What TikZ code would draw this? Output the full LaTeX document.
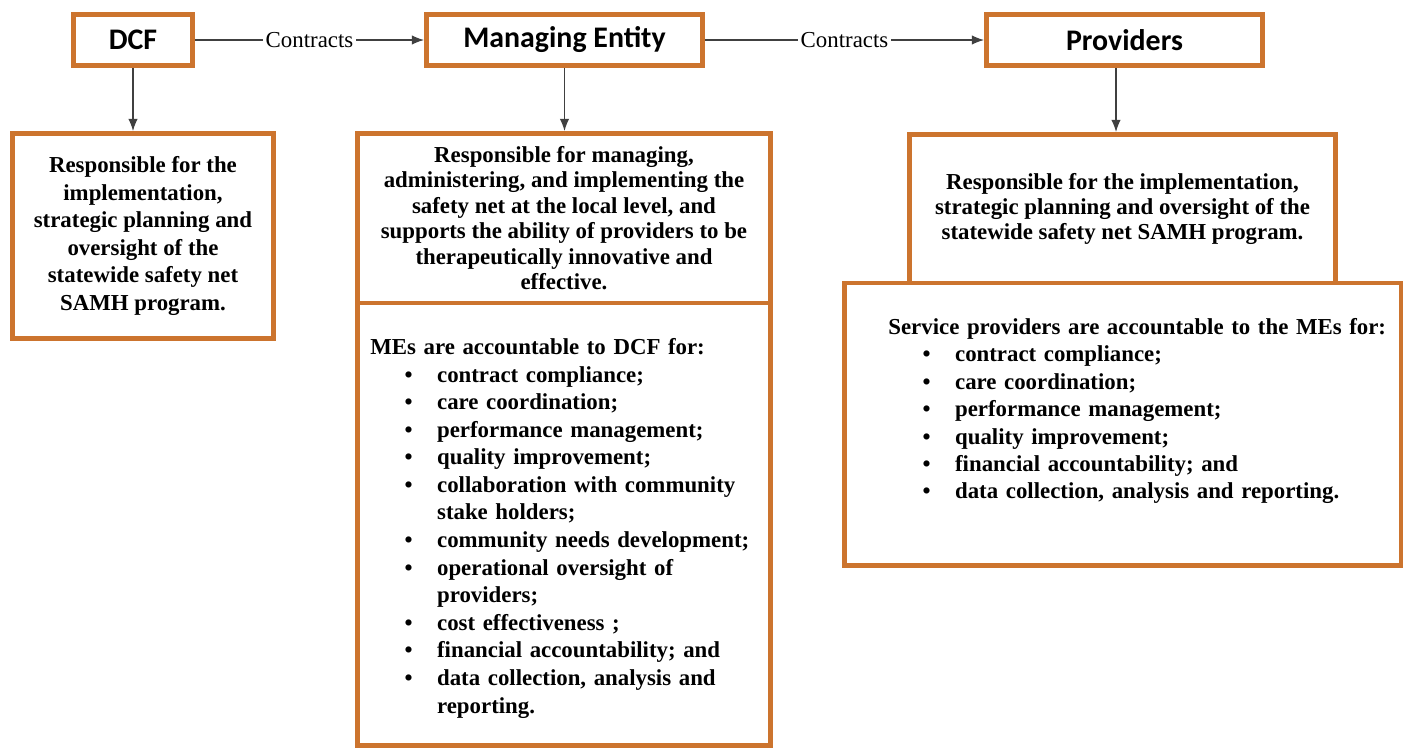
\documentclass[tikz,border=0pt]{standalone}
\usepackage{fontspec}
\setmainfont{Liberation Serif}
\newfontfamily\headfont{Carlito}
\usetikzlibrary{arrows.meta,positioning,calc}
\definecolor{boxorange}{RGB}{204,116,46}
\definecolor{arrowgray}{RGB}{64,64,64}
\tikzset{>={Latex[length=7pt,width=5.5pt]}}

\newenvironment{dotlist}{%
  \begin{list}{\textbullet}{%
    \setlength{\leftmargin}{38pt}%
    \setlength{\labelsep}{14pt}%
    \setlength{\labelwidth}{10pt}%
    \setlength{\itemsep}{0pt}\setlength{\parsep}{0pt}%
    \setlength{\topsep}{0pt}\setlength{\partopsep}{0pt}}}%
  {\end{list}}

\begin{document}
\begin{tikzpicture}[x=0.02cm, y=-0.02cm,
    box/.style={draw=boxorange, line width=2.8pt, fill=white, outer sep=0pt, inner sep=0pt},
    head/.style={box, minimum height=1.03cm, font=\headfont\bfseries\fontsize{17pt}{20pt}\selectfont},
    desc/.style={box, align=center, font=\bfseries\fontsize{13pt}{#1}\selectfont},
    desc/.default=14.6pt,
    listtext/.style={anchor=north west, inner sep=0pt, align=left, font=\bfseries\fontsize{13pt}{#1}\selectfont},
    listtext/.default=14.6pt,
    flow/.style={draw=arrowgray, line width=0.8pt, ->, shorten >=1.4pt, shorten <=1.4pt},
    lbl/.style={fill=white, inner xsep=1.5pt, inner ysep=0pt, font=\fontsize{13pt}{15pt}\selectfont}]

    \useasboundingbox (0,0) rectangle (1409,751);

    % top row
    \node[head, minimum width=2.38cm] (dcf) at (133,40) {DCF};
    \node[head, minimum width=5.52cm] (me) at (564.5,40) {Managing Entity};
    \node[head, minimum width=5.52cm] (prov) at (1124.5,40) {Providers};

    % boxes below
    \node[desc=15.7pt, minimum width=5.22cm, minimum height=4.10cm] (dcfdesc) at (143,236)
        {Responsible for the\\implementation,\\strategic planning and\\oversight of the\\statewide safety net\\SAMH program.};

    \node[desc=14.5pt, minimum width=8.26cm, minimum height=3.39cm] (medesc) at (564,218.25)
        {Responsible for managing,\\administering, and implementing the\\safety net at the local level, and\\supports the ability of providers to be\\therapeutically innovative and\\effective.};
    \node[box, minimum width=8.26cm, minimum height=8.85cm, below=0pt of medesc] (melist) {};

    \node[desc=14.2pt, minimum width=8.52cm, minimum height=2.97cm] (provdesc) at (1122.5,208.75)
        {Responsible for the implementation,\\strategic planning and oversight of the\\statewide safety net SAMH program.};
    \node[box, minimum width=11.14cm, minimum height=5.65cm, below=0pt of provdesc] (provlist) {};

    \node[listtext=15.7pt, text width=7.76cm] (melisttext) at (370,338) {MEs are accountable to DCF for:
        \begin{dotlist}
        \item contract compliance;
        \item care coordination;
        \item performance management;
        \item quality improvement;
        \item collaboration with community\\stake holders;
        \item community needs development;
        \item operational oversight of\\providers;
        \item cost effectiveness ;
        \item financial accountability; and
        \item data collection, analysis and\\reporting.
        \end{dotlist}};

    \node[listtext=15.6pt, text width=10.2cm] (provlisttext) at (888,318) {Service providers are accountable to the MEs for:
        \begin{dotlist}
        \item contract compliance;
        \item care coordination;
        \item performance management;
        \item quality improvement;
        \item financial accountability; and
        \item data collection, analysis and reporting.
        \end{dotlist}};

    % arrows
    \draw[flow] (dcf) -- node[lbl]{Contracts} (me);
    \draw[flow] (me) -- node[lbl]{Contracts} (prov);
    \draw[flow] (dcf.south) -- (dcf.south |- dcfdesc.north);
    \draw[flow] (me.south) -- (me.south |- medesc.north);
    \draw[flow] ([xshift=-0.17cm]prov.south) -- ([xshift=-0.17cm]prov.south |- provdesc.north);
\end{tikzpicture}
\end{document}
